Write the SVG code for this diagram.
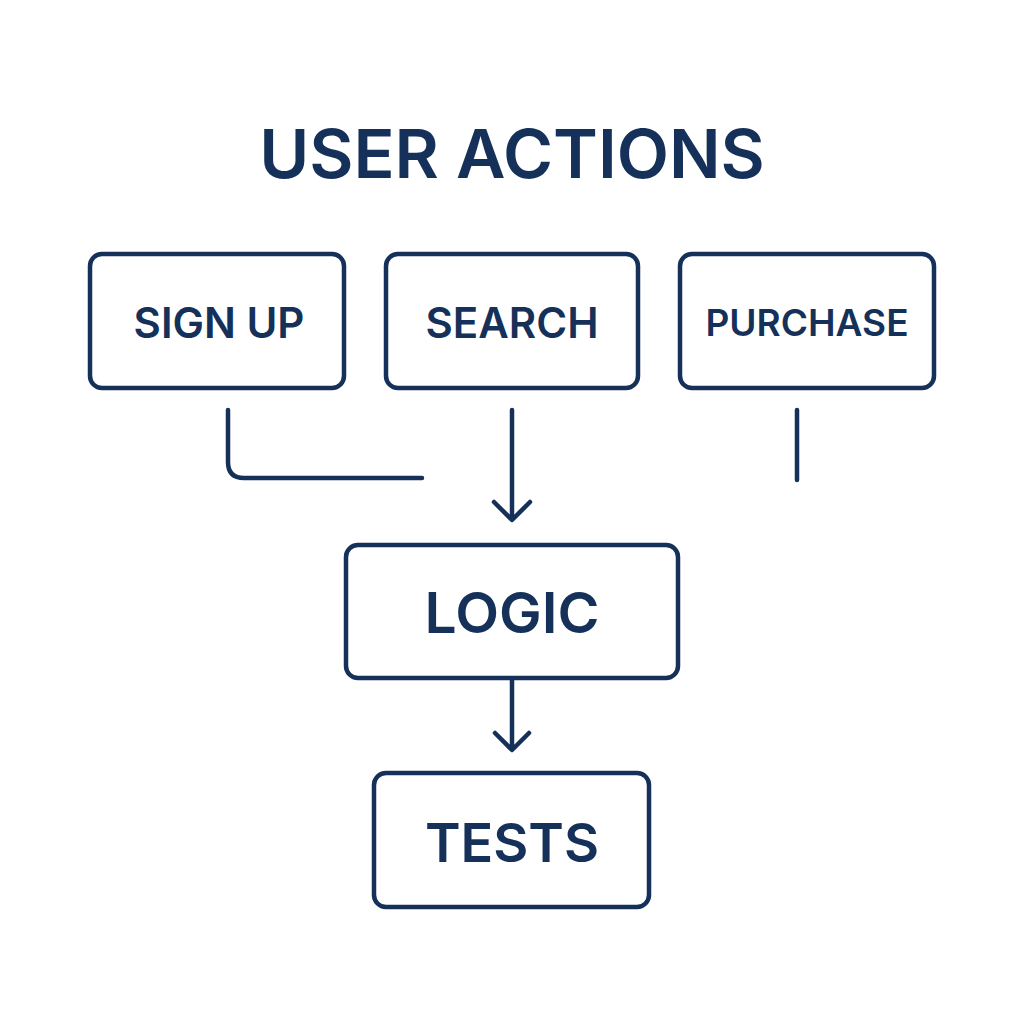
<svg xmlns="http://www.w3.org/2000/svg" width="1024" height="1024" viewBox="0 0 1024 1024">
<style>
.box{fill:#fff;stroke:#15315a;stroke-width:4.5}
.lbl{font-family:Inter,"Liberation Sans",sans-serif;font-weight:600;fill:#15315a;text-anchor:middle}
.con{fill:none;stroke:#15315a;stroke-width:4.5;stroke-linecap:round;stroke-linejoin:round}
</style>
<rect width="1024" height="1024" fill="#fff"/>
<text class="lbl" x="512" y="178" font-size="68">USER ACTIONS</text>
<g id="signup"><rect class="box" x="90" y="254" width="254" height="134" rx="12"/><text class="lbl" x="219" y="338" font-size="42">SIGN UP</text></g>
<g id="search"><rect class="box" x="386" y="254" width="252" height="134" rx="12"/><text class="lbl" x="512" y="338" font-size="42">SEARCH</text></g>
<g id="purchase"><rect class="box" x="680" y="254" width="254" height="134" rx="12"/><text class="lbl" x="807" y="336" font-size="37">PURCHASE</text></g>
<g id="logic"><rect class="box" x="346" y="545" width="332" height="133" rx="12"/><text class="lbl" x="512" y="633" font-size="57">LOGIC</text></g>
<g id="tests"><rect class="box" x="374" y="773" width="275" height="134" rx="12"/><text class="lbl" x="512" y="862" font-size="54">TESTS</text></g>
<g id="connectors">
<path class="con" d="M228 410 V462 Q228 478 244 478 H422"/>
<path class="con" d="M512 410 V518 M494 502 L512 520 L530 502"/>
<path class="con" d="M797 410 V480"/>
<path class="con" d="M512 680 V748 M495 733 L512 750 L529 733"/>
</g>
</svg>
